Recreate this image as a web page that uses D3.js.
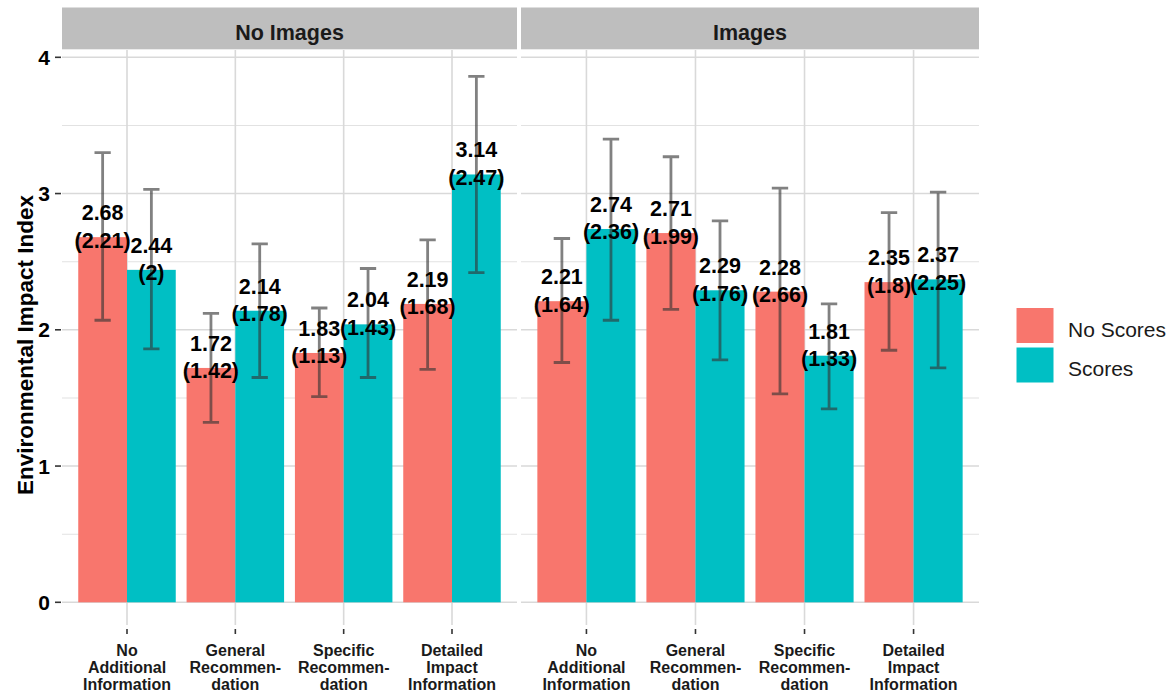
<!DOCTYPE html>
<html>
<head>
<meta charset="utf-8">
<script src="https://cdn.jsdelivr.net/npm/d3@7"></script>
<style>
  body { margin: 0; background: #fff; }
  svg { display: block; font-family: "Liberation Sans", Arial, Helvetica, sans-serif; }
</style>
</head>
<body>
<svg id="chart" width="1169" height="694"></svg>
<script>
// ---- data ----
const facets = ["No Images", "Images"];
const series = ["No Scores", "Scores"];
const categories = [
  "No Additional Information",
  "General Recommendation",
  "Specific Recommendation",
  "Detailed Impact Information"
];
const categoryLines = [
  ["No", "Additional", "Information"],
  ["General", "Recommen-", "dation"],
  ["Specific", "Recommen-", "dation"],
  ["Detailed", "Impact", "Information"]
];
const yTicks = [0, 1, 2, 3, 4];
const yMinorTicks = [0.5, 1.5, 2.5, 3.5];

// mean index per category
const noImagesNoScoresMean = [2.68, 1.72, 1.83, 2.19];
const noImagesScoresMean   = [2.44, 2.14, 2.04, 3.14];
const imagesNoScoresMean   = [2.21, 2.71, 2.28, 2.35];
const imagesScoresMean     = [2.74, 2.29, 1.81, 2.37];

// standard deviation per category
const noImagesNoScoresSd = [2.21, 1.42, 1.13, 1.68];
const noImagesScoresSd   = [2, 1.78, 1.43, 2.47];
const imagesNoScoresSd   = [1.64, 1.99, 2.66, 1.8];
const imagesScoresSd     = [2.36, 1.76, 1.33, 2.25];

// interval bounds per category
const noImagesNoScoresLow  = [2.07, 1.32, 1.51, 1.71];
const noImagesNoScoresHigh = [3.30, 2.12, 2.16, 2.66];
const noImagesScoresLow    = [1.86, 1.65, 1.65, 2.42];
const noImagesScoresHigh   = [3.03, 2.63, 2.45, 3.86];
const imagesNoScoresLow    = [1.76, 2.15, 1.53, 1.85];
const imagesNoScoresHigh   = [2.67, 3.27, 3.04, 2.86];
const imagesScoresLow      = [2.07, 1.78, 1.42, 1.72];
const imagesScoresHigh     = [3.40, 2.80, 2.19, 3.01];

const seriesColors = ["#F8766D", "#00BFC4"];

// assemble rows: facet -> series -> category
const table = [
  [[noImagesNoScoresMean, noImagesNoScoresSd, noImagesNoScoresLow, noImagesNoScoresHigh],
   [noImagesScoresMean, noImagesScoresSd, noImagesScoresLow, noImagesScoresHigh]],
  [[imagesNoScoresMean, imagesNoScoresSd, imagesNoScoresLow, imagesNoScoresHigh],
   [imagesScoresMean, imagesScoresSd, imagesScoresLow, imagesScoresHigh]]
];
const rows = [];
facets.forEach((f, fi) => {
  series.forEach((s, si) => {
    const [m, sd, lo, hi] = table[fi][si];
    categories.forEach((c, ci) => {
      rows.push({ facet: f, series: s, category: c, mean: m[ci], sd: sd[ci], low: lo[ci], high: hi[ci] });
    });
  });
});

// ---- layout ----
const svg = d3.select("#chart");
const panelTop = 50, panelBottom = 625;
const stripTop = 7.5, stripBottom = 49.3;
const panelX = { "No Images": [62, 517], "Images": [521, 979] };

const y = d3.scaleLinear().domain([-0.1666, 4.0536]).range([panelBottom, panelTop]);
const color = d3.scaleOrdinal().domain(series).range(seriesColors);

facets.forEach(f => {
  const [x0, x1] = panelX[f];
  const x = d3.scaleBand().domain(categories).range([x0, x1]).paddingInner(0.1).paddingOuter(0.15);
  const xs = d3.scaleBand().domain(series).range([0, x.bandwidth()]);
  const g = svg.append("g");

  // strip
  g.append("rect").attr("x", x0).attr("y", stripTop).attr("width", x1 - x0)
    .attr("height", stripBottom - stripTop).attr("fill", "#bebebe");
  g.append("text").attr("x", (x0 + x1) / 2).attr("y", 39.5)
    .attr("text-anchor", "middle").attr("font-weight", "bold").attr("font-size", 21.5)
    .attr("fill", "#1a1a1a").text(f);

  // grid
  g.selectAll(".minor").data(yMinorTicks).join("line")
    .attr("x1", x0).attr("x2", x1).attr("y1", d => y(d)).attr("y2", d => y(d))
    .attr("stroke", "#e2e2e2").attr("stroke-width", 1.1);
  g.selectAll(".major").data(yTicks).join("line")
    .attr("x1", x0).attr("x2", x1).attr("y1", d => y(d)).attr("y2", d => y(d))
    .attr("stroke", "#d9d9d9").attr("stroke-width", 1.6);
  g.selectAll(".vgrid").data(categories).join("line")
    .attr("x1", d => x(d) + x.bandwidth() / 2).attr("x2", d => x(d) + x.bandwidth() / 2)
    .attr("y1", panelTop).attr("y2", panelBottom)
    .attr("stroke", "#d9d9d9").attr("stroke-width", 1.6);

  const data = rows.filter(r => r.facet === f);
  const bx = r => x(r.category) + xs(r.series);
  const cx = r => bx(r) + xs.bandwidth() / 2;

  // bars
  g.selectAll(".bar").data(data).join("rect")
    .attr("x", bx).attr("width", xs.bandwidth())
    .attr("y", r => y(r.mean)).attr("height", r => y(0) - y(r.mean))
    .attr("fill", r => color(r.series));

  // error bars
  const cap = x.step() * 0.15 / 2;
  const eb = g.selectAll(".eb").data(data).join("g")
    .attr("stroke", "#333").attr("stroke-opacity", 0.62).attr("stroke-width", 2.8).attr("fill", "none");
  eb.append("path").attr("d", r =>
    `M${cx(r) - cap},${y(r.high)}H${cx(r) + cap}M${cx(r)},${y(r.high)}V${y(r.low)}M${cx(r) - cap},${y(r.low)}H${cx(r) + cap}`);

  // value labels
  const lab = g.selectAll(".lab").data(data).join("text")
    .attr("text-anchor", "middle").attr("font-weight", "bold").attr("font-size", 21.5)
    .attr("fill", "#000");
  lab.append("tspan").attr("x", cx).attr("y", r => y(r.mean) - 17).text(r => String(r.mean));
  lab.append("tspan").attr("x", cx).attr("y", r => y(r.mean) + 10.5).text(r => `(${r.sd})`);

  // x ticks and labels
  g.selectAll(".xt").data(categories).join("line")
    .attr("x1", d => x(d) + x.bandwidth() / 2).attr("x2", d => x(d) + x.bandwidth() / 2)
    .attr("y1", 629).attr("y2", 634).attr("stroke", "#333").attr("stroke-width", 1.6);
  const xl = g.selectAll(".xl").data(categories).join("text")
    .attr("text-anchor", "middle").attr("font-weight", "bold").attr("font-size", 16)
    .attr("fill", "#1a1a1a");
  xl.selectAll("tspan").data((d, i) => categoryLines[i].map(t => ({ t, c: d })))
    .join("tspan").attr("x", d => x(d.c) + x.bandwidth() / 2)
    .attr("y", (d, i) => 656 + i * 17).text(d => d.t);
});

// y axis
const ya = svg.append("g");
ya.selectAll("line").data(yTicks).join("line")
  .attr("x1", 55).attr("x2", 61).attr("y1", d => y(d)).attr("y2", d => y(d))
  .attr("stroke", "#333").attr("stroke-width", 1.6);
ya.selectAll("text").data(yTicks).join("text")
  .attr("x", 50).attr("y", d => y(d)).attr("dy", "0.36em")
  .attr("text-anchor", "end").attr("font-weight", "bold").attr("font-size", 21)
  .attr("fill", "#000").text(d => d);
svg.append("text")
  .attr("transform", "translate(33,345) rotate(-90)")
  .attr("text-anchor", "middle").attr("font-weight", "bold").attr("font-size", 22.5)
  .attr("fill", "#000").text("Environmental Impact Index");

// legend
const lg = svg.append("g");
series.forEach((s, i) => {
  lg.append("rect").attr("x", 1016).attr("y", 307.5 + i * 39.5).attr("width", 38).attr("height", 36)
    .attr("fill", color(s)).attr("stroke", "#fff").attr("stroke-width", 1);
  lg.append("text").attr("x", 1068).attr("y", 337 + i * 39).attr("font-size", 21)
    .attr("fill", "#1a1a1a").text(s);
});
</script>
</body>
</html>
